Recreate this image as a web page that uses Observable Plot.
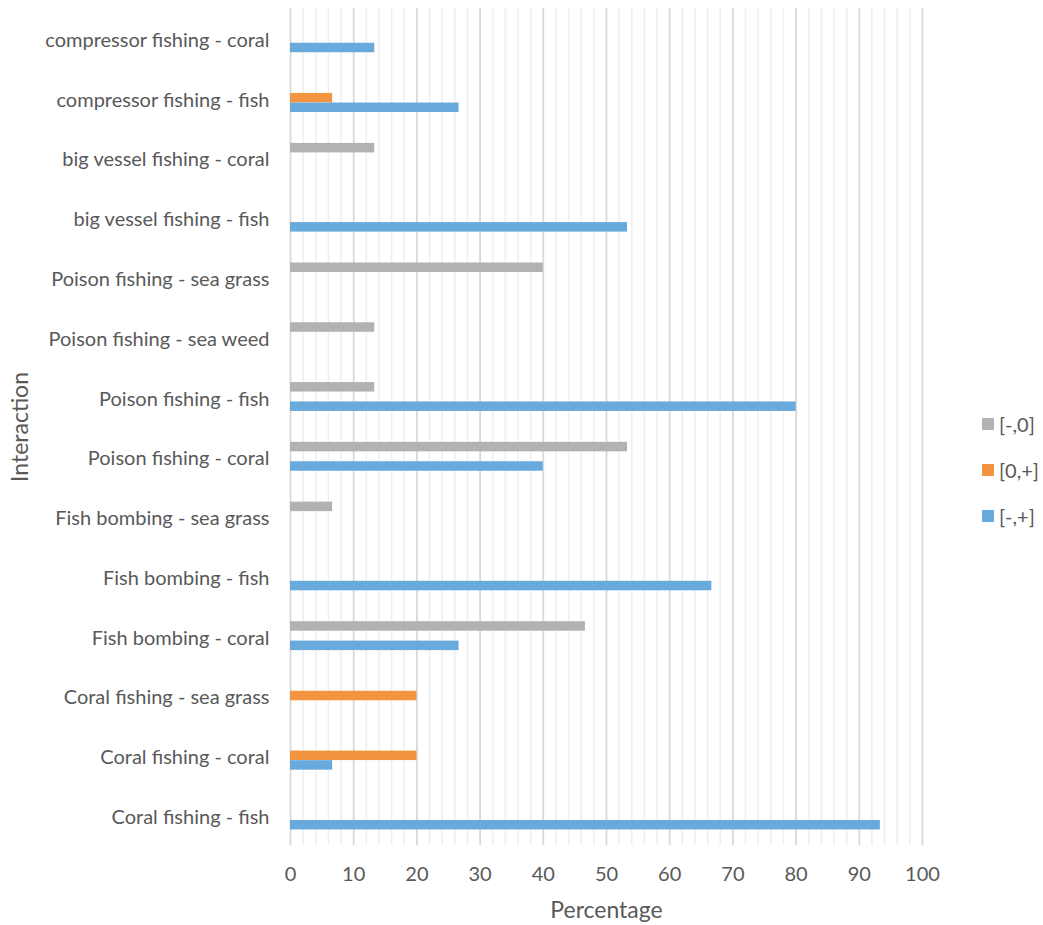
<!DOCTYPE html>
<html><head><meta charset="utf-8">
<script src="https://cdn.jsdelivr.net/npm/d3@7"></script>
<script src="https://cdn.jsdelivr.net/npm/@observablehq/plot@0.6"></script>
<style>
body{margin:0;background:#fff;}
#wrap{position:relative;width:1043px;height:925px;font-family:Lato,"Open Sans",sans-serif;color:#595959;}
#legend{position:absolute;left:982px;top:401px;font-size:20px;}
#legend .item{display:flex;align-items:center;height:46px;}
#legend .sw{width:12px;height:12px;margin-right:5px;}
</style>
</head><body><div id="wrap"></div>
<script>
// categories, top to bottom
const categories = [
  "compressor fishing - coral",
  "compressor fishing - fish",
  "big vessel fishing - coral",
  "big vessel fishing - fish",
  "Poison fishing - sea grass",
  "Poison fishing - sea weed",
  "Poison fishing - fish",
  "Poison fishing - coral",
  "Fish bombing - sea grass",
  "Fish bombing - fish",
  "Fish bombing - coral",
  "Coral fishing - sea grass",
  "Coral fishing - coral",
  "Coral fishing - fish"
];
const seriesNames = ["[-,0]", "[0,+]", "[-,+]"];
const seriesColors = ["#b2b2b2", "#f39440", "#69aadc"];
const negZero = [null, null, 13.33, null, 40, 13.33, 13.33, 53.33, 6.67, null, 46.67, null, null, null];
const zeroPos = [null, 6.67, null, null, null, null, null, null, null, null, null, 20, 20, null];
const negPos  = [13.33, 26.67, null, 53.33, null, null, 80, 40, null, 66.67, 26.67, null, 6.67, 93.33];
const xTicks = [0, 10, 20, 30, 40, 50, 60, 70, 80, 90, 100];

const seriesValues = [negZero, zeroPos, negPos];
const rows = (k) => categories.map((c, i) => ({cat: c, value: seriesValues[k][i], series: seriesNames[k]}))
  .filter(d => d.value != null);

const seriesOffsets = [-9.8, 0, 9.6];
const thick = 9.5;
const bandStep = (845 - 8) / categories.length;
const inset = (bandStep - thick) / 2;

const minorTicks = d3.range(0, 101, 2).filter(v => v % 10 !== 0);

const chart = Plot.plot({
  width: 1043,
  height: 925,
  marginLeft: 290,
  marginRight: 121,
  marginTop: 8,
  marginBottom: 80,
  style: {fontFamily: "Lato, 'Open Sans', sans-serif", color: "#595959", background: "#fff"},
  x: {domain: [0, 100], label: null, axis: null},
  y: {domain: categories, padding: 0, round: false, label: null, axis: null},
  marks: [
    Plot.ruleX(minorTicks, {stroke: "#efefef", strokeWidth: 1.6}),
    Plot.ruleX(xTicks, {stroke: "#d9d9d9", strokeWidth: 1.8}),
    ...seriesNames.map((s, k) => Plot.barX(rows(k), {
      x: "value", y: "cat", fill: seriesColors[k],
      insetTop: inset, insetBottom: inset, dy: seriesOffsets[k]
    })),
    Plot.axisX(xTicks, {tickSize: 0, tickPadding: 21, fontSize: 20, fill: "#595959", label: null}),
    Plot.axisY({tickSize: 0, tickPadding: 21, fontSize: 20, fill: "#595959", label: null, dy: 2}),
    Plot.text(["Percentage"], {frameAnchor: "bottom", dy: 72, fontSize: 23, fill: "#595959"}),
    Plot.text(["Interaction"], {frameAnchor: "left", textAnchor: "middle", dx: -270, rotate: -90, fontSize: 23, fill: "#595959"})
  ]
});
const wrap = document.getElementById("wrap");
wrap.appendChild(chart);

const legend = document.createElement("div");
legend.id = "legend";
seriesNames.forEach((s, k) => {
  const it = document.createElement("div");
  it.className = "item";
  const sw = document.createElement("span");
  sw.className = "sw";
  sw.style.background = seriesColors[k];
  const t = document.createElement("span");
  t.textContent = s;
  it.appendChild(sw); it.appendChild(t);
  legend.appendChild(it);
});
wrap.appendChild(legend);
</script>
</body></html>
